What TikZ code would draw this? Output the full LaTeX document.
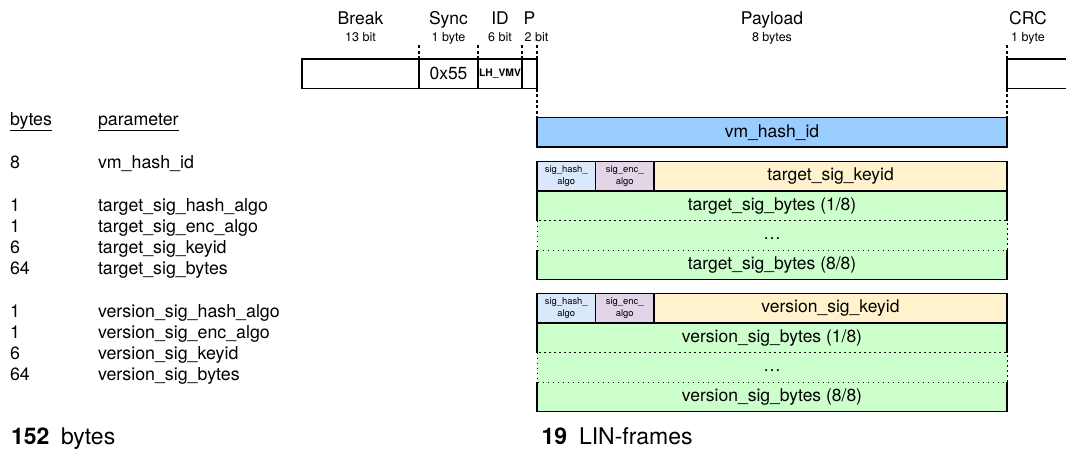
\documentclass[tikz,border=0pt]{standalone}
\usepackage{fontspec}
\setmainfont{TeX Gyre Heros}
\definecolor{vmblue}{HTML}{99CCFF}
\definecolor{hashblue}{HTML}{DAE8FC}
\definecolor{encpurple}{HTML}{E1D5E7}
\definecolor{keyyellow}{HTML}{FFF2CC}
\definecolor{bytesgreen}{HTML}{CCFFCC}
\tikzset{
  big/.style={font=\fontsize{17.5}{21}\selectfont},
  tab/.style={font=\fontsize{17.8}{21}\selectfont},
  sub/.style={font=\fontsize{12.5}{15}\selectfont},
  wee/.style={font=\fontsize{9.4}{11.8}\selectfont},
  huge/.style={font=\fontsize{23}{27}\selectfont},
  hugebold/.style={font=\fontsize{23}{27}\selectfont\bfseries},
  txt/.style={inner sep=0pt, outer sep=0pt},
  cell/.style={draw, line width=1.1pt, inner sep=0pt, outer sep=0pt,
    anchor=north west, minimum height=29.5pt, big},
  band/.style={fill=bytesgreen, inner sep=0pt, outer sep=0pt,
    anchor=north west, minimum width=470pt, minimum height=29.5pt, big},
  edge/.style={line width=1.1pt},
  dotedge/.style={line width=1pt, dash pattern=on 1.6pt off 3.4pt},
  tick/.style={line width=1.2pt, dash pattern=on 3pt off 2.5pt},
  gap/.style={txt, big, yshift=-3.5pt},
}
\begin{document}
\begin{tikzpicture}[x=1pt,y=-1pt]
\useasboundingbox (0,0) rectangle (1066,453);

% ---- LIN frame header ----
\node[cell, minimum width=117pt] (brk) at (302,59) {};
\node[cell, minimum width=59pt] (sync) at (419,59) {0x55};
\node[cell, minimum width=44pt, font=\fontsize{10.3}{12}\selectfont\bfseries] (id) at (478,59) {LH\_VMV};
\node[cell, minimum width=15pt] (par) at (522,59) {};
\node[cell, minimum width=80pt] (crc) at (1007,59) {};

% field names and sizes
\node[txt, big, anchor=base] (lbrk) at (360.5,24) {Break};
\node[txt, sub, anchor=base] (sbrk) at (360.5,41.5) {13 bit};
\node[txt, big, anchor=base] (lsync) at (448.5,24) {Sync};
\node[txt, sub, anchor=base] (ssync) at (448.5,41.5) {1 byte};
\node[txt, big, anchor=base] (lid) at (500,24) {ID};
\node[txt, sub, anchor=base] (sid) at (500,41.5) {6 bit};
\node[txt, big, anchor=base] (lpar) at (529.5,24) {P};
\node[txt, sub, anchor=base] (spar) at (536.5,41.5) {2 bit};
\node[txt, big, anchor=base] (lpay) at (772,24) {Payload};
\node[txt, sub, anchor=base] (spay) at (772,41.5) {8 bytes};
\node[txt, big, anchor=base] (lcrc) at (1028,24) {CRC};
\node[txt, sub, anchor=base] (scrc) at (1028,41.5) {1 byte};

% field boundaries
\draw[tick] (sync.north west) -- ++(0,-15);
\draw[tick] (id.north west) -- ++(0,-15);
\draw[tick] (par.north west) -- ++(0,-15);
\draw[tick] (par.north east) -- ++(0,-15);
\draw[tick] (crc.north west) -- ++(0,-15);

% ---- payload frames ----
\node[cell, fill=vmblue, minimum width=470pt] (vm) at (537,117.5) {vm\_hash\_id};
\draw[tick] (par.south east) -- (vm.north west);
\draw[tick] (crc.south west) -- (vm.north east);

% target signature
\node[cell, fill=hashblue, minimum width=58.5pt, wee, align=center] (th) at (537,161.5) {sig\_hash\_\\algo};
\node[cell, fill=encpurple, minimum width=58.5pt, wee, align=center] (te) at (595.5,161.5) {sig\_enc\_\\algo};
\node[cell, fill=keyyellow, minimum width=353pt] (tk) at (654,161.5) {target\_sig\_keyid};
\node[band] (t1) at (537,191) {target\_sig\_bytes (1/8)};
\node[band] (td) at (537,220.5) {};
\node[gap] (tdots) at (td.center) {\dots};
\node[band] (t8) at (537,250) {target\_sig\_bytes (8/8)};
\draw[edge] (t1.south west) |- (t1.north east) -- (t1.south east);
\draw[edge] (t8.north west) |- (t8.south east) -- (t8.north east);
\draw[dotedge] (td.north west) rectangle (td.south east);

% version signature
\node[cell, fill=hashblue, minimum width=58.5pt, wee, align=center] (vh) at (537,293.5) {sig\_hash\_\\algo};
\node[cell, fill=encpurple, minimum width=58.5pt, wee, align=center] (ve) at (595.5,293.5) {sig\_enc\_\\algo};
\node[cell, fill=keyyellow, minimum width=353pt] (vk) at (654,293.5) {version\_sig\_keyid};
\node[band] (v1) at (537,323) {version\_sig\_bytes (1/8)};
\node[band] (vd) at (537,352.5) {};
\node[gap] (vdots) at (vd.center) {\dots};
\node[band] (v8) at (537,382) {version\_sig\_bytes (8/8)};
\draw[edge] (v1.south west) |- (v1.north east) -- (v1.south east);
\draw[edge] (v8.north west) |- (v8.south east) -- (v8.north east);
\draw[dotedge] (vd.north west) rectangle (vd.south east);

% ---- parameter table ----
\node[txt, tab, anchor=base west] (hb) at (10,125) {\underline{bytes}};
\node[txt, tab, anchor=base west] (hp) at (98,125) {\underline{parameter}};

\node[txt, tab, anchor=base west] (b1) at (10,168.5) {8};
\node[txt, tab, anchor=base west] (p1) at (98,168.5) {vm\_hash\_id};

\node[txt, tab, anchor=base west] (b2) at (10,211.7) {1};
\node[txt, tab, anchor=base west] (p2) at (98,211.7) {target\_sig\_hash\_algo};
\node[txt, tab, anchor=base west] (b3) at (10,232.7) {1};
\node[txt, tab, anchor=base west] (p3) at (98,232.7) {target\_sig\_enc\_algo};
\node[txt, tab, anchor=base west] (b4) at (10,253.7) {6};
\node[txt, tab, anchor=base west] (p4) at (98,253.7) {target\_sig\_keyid};
\node[txt, tab, anchor=base west] (b5) at (10,274.7) {64};
\node[txt, tab, anchor=base west] (p5) at (98,274.7) {target\_sig\_bytes};

\node[txt, tab, anchor=base west] (b6) at (10,317.7) {1};
\node[txt, tab, anchor=base west] (p6) at (98,317.7) {version\_sig\_hash\_algo};
\node[txt, tab, anchor=base west] (b7) at (10,338.7) {1};
\node[txt, tab, anchor=base west] (p7) at (98,338.7) {version\_sig\_enc\_algo};
\node[txt, tab, anchor=base west] (b8) at (10,359.7) {6};
\node[txt, tab, anchor=base west] (p8) at (98,359.7) {version\_sig\_keyid};
\node[txt, tab, anchor=base west] (b9) at (10,380.7) {64};
\node[txt, tab, anchor=base west] (p9) at (98,380.7) {version\_sig\_bytes};

% ---- totals ----
\node[txt, hugebold, anchor=base west] (tb) at (11,444) {152};
\node[txt, huge, anchor=base west] (tbu) at (61,444) {bytes};
\node[txt, hugebold, anchor=base west] (tf) at (541.5,444) {19};
\node[txt, huge, anchor=base west] (tfu) at (579,444) {LIN-frames};
\end{tikzpicture}
\end{document}
